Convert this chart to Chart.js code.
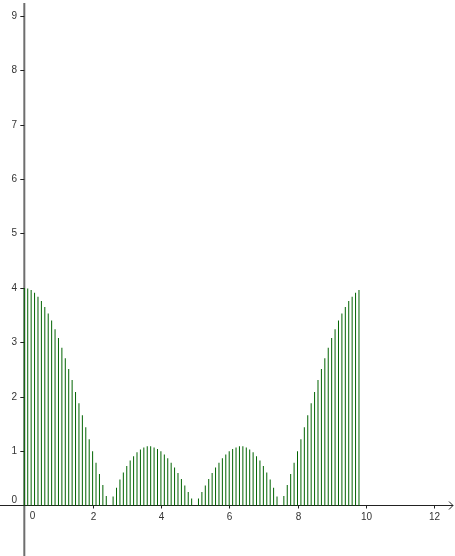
<!DOCTYPE html>
<html>
<head>
<meta charset="utf-8">
<script src="https://cdn.jsdelivr.net/npm/chart.js@4"></script>
<style>
  body { margin: 0; background: #ffffff; }
  #grafico { display: block; }
</style>
</head>
<body>
<canvas id="grafico" width="455" height="556"></canvas>
<script>
// pontos do eixo x: 0.0, 0.1, ... 9.8
var inicioX = 0;
var passoX = 0.1;

// altura de cada barra
var alturas = [
  4.00, 3.99, 3.96, 3.91, 3.84, 3.76, 3.65, 3.53, 3.40, 3.24,
  3.08, 2.90, 2.71, 2.51, 2.31, 2.09, 1.88, 1.66, 1.44, 1.22,
  1.00, 0.79, 0.58, 0.38, 0.18, 0.00, 0.17, 0.33, 0.48, 0.61,
  0.73, 0.83, 0.91, 0.98, 1.03, 1.07, 1.09, 1.09, 1.07, 1.04,
  1.00, 0.94, 0.87, 0.79, 0.70, 0.60, 0.49, 0.37, 0.25, 0.13,
  0.00, 0.13, 0.25, 0.37, 0.49, 0.60, 0.70, 0.79, 0.87, 0.94,
  1.00, 1.04, 1.07, 1.09, 1.09, 1.07, 1.03, 0.98, 0.91, 0.83,
  0.73, 0.61, 0.48, 0.33, 0.17, 0.00, 0.18, 0.38, 0.58, 0.79,
  1.00, 1.22, 1.44, 1.66, 1.88, 2.09, 2.31, 2.51, 2.71, 2.90,
  3.08, 3.24, 3.40, 3.53, 3.65, 3.76, 3.84, 3.91, 3.96
];

var ticksX = [0, 2, 4, 6, 8, 10, 12];
var ticksY = [0, 1, 2, 3, 4, 5, 6, 7, 8, 9];

var pontos = [];
for (var i = 0; i < alturas.length; i++) {
  var xv = Math.round((inicioX + i * passoX) * 10) / 10;
  pontos.push({ x: xv, y: alturas[i] });
}

// eixos no estilo GeoGebra, desenhados a partir das escalas do Chart.js
var eixos = {
  id: "eixos",
  beforeDatasetsDraw: function (chart) {
    var ctx = chart.ctx;
    var sx = chart.scales.x;
    var sy = chart.scales.y;
    var x0 = sx.getPixelForValue(0);
    var y0 = Math.round(sy.getPixelForValue(0)) - 0.5;
    var w = chart.width;
    var h = chart.height;

    ctx.save();
    // eixo y (cinza)
    ctx.strokeStyle = "#6e6e6e";
    ctx.lineWidth = 2;
    ctx.beginPath();
    ctx.moveTo(x0, 3);
    ctx.lineTo(x0, h);
    ctx.stroke();

    // eixo x
    ctx.strokeStyle = "#222222";
    ctx.lineWidth = 1;
    ctx.beginPath();
    ctx.moveTo(0, y0);
    ctx.lineTo(w - 2, y0);
    ctx.stroke();

    // seta
    ctx.beginPath();
    ctx.moveTo(w - 6, y0 - 4);
    ctx.lineTo(w - 2, y0);
    ctx.lineTo(w - 6, y0 + 4);
    ctx.stroke();

    ctx.font = "10px 'Liberation Sans', Arial, sans-serif";
    ctx.fillStyle = "#333333";

    // marcas e rotulos do eixo x
    ctx.textAlign = "center";
    ctx.textBaseline = "middle";
    for (var i = 0; i < ticksX.length; i++) {
      var v = ticksX[i];
      var px = Math.round(sx.getPixelForValue(v)) + 0.5;
      if (v != 0) {
        ctx.beginPath();
        ctx.moveTo(px, y0);
        ctx.lineTo(px, y0 + 3);
        ctx.stroke();
        ctx.fillText(String(v), px, y0 + 12);
      } else {
        ctx.fillText("0", px + 8, y0 + 11);
      }
    }

    // marcas e rotulos do eixo y
    ctx.textAlign = "right";
    for (var j = 0; j < ticksY.length; j++) {
      var vy = ticksY[j];
      var py = Math.round(sy.getPixelForValue(vy)) + 0.5;
      if (vy != 0) {
        ctx.beginPath();
        ctx.moveTo(x0 - 4, py);
        ctx.lineTo(x0, py);
        ctx.stroke();
        ctx.fillText(String(vy), 17, py);
      } else {
        ctx.fillText("0", 17, py - 6);
      }
    }
    ctx.restore();
  }
};

new Chart(grafico.getContext("2d"), {
  type: "bar",
  data: {
    datasets: [{
      data: pontos,
      backgroundColor: "#006400",
      borderWidth: 0,
      inflateAmount: 0,
      barThickness: 1
    }]
  },
  options: {
    responsive: false,
    animation: false,
    layout: { padding: 0 },
    plugins: {
      legend: { display: false },
      tooltip: { enabled: false }
    },
    scales: {
      x: { type: "linear", offset: false, min: -0.712, max: 12.612, display: false },
      y: { type: "linear", min: -0.924, max: 9.289, display: false }
    }
  },
  plugins: [eixos]
});
</script>
</body>
</html>
